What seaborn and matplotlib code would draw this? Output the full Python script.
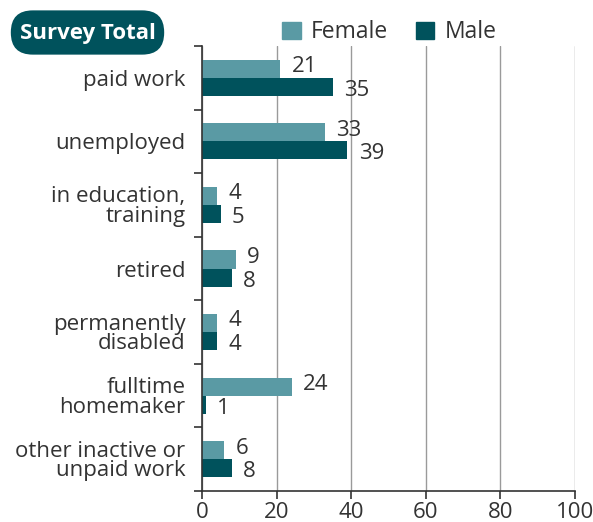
import numpy as np
import pandas as pd
import seaborn as sns
import matplotlib.pyplot as plt
from matplotlib.patches import FancyBboxPatch
from matplotlib.ticker import FixedLocator

categories = ['paid work', 'unemployed', 'in education,\ntraining', 'retired',
              'permanently\ndisabled', 'fulltime\nhomemaker', 'other inactive or\nunpaid work']
female = [21, 33, 4, 9, 4, 24, 6]
male = [35, 39, 5, 8, 4, 1, 8]
groups = ['Female', 'Male']
colors = ['#5A9AA4', '#00525C']

df = pd.DataFrame({
    'category': categories * 2,
    'value': female + male,
    'sex': ['Female'] * len(categories) + ['Male'] * len(categories),
})

sns.set_style('white')
plt.rcParams['font.family'] = ['Open Sans', 'DejaVu Sans']
text_col = '#333333'
fs = 16

W, H = 593, 522
fig = plt.figure(figsize=(W / 100, H / 100), dpi=100)
ax = fig.add_axes([202 / W, 1 - 491 / H, 373 / W, 445 / H])

sns.barplot(data=df, y='category', x='value', hue='sex', order=categories,
            hue_order=groups, palette=colors, orient='h', width=0.57,
            saturation=1, ax=ax, legend=False, edgecolor='none')

# value labels: female nudged up, male nudged down
for cont, dy in zip(ax.containers, [1.5, -2.5]):
    for t in ax.bar_label(cont, fmt='%d', padding=8, fontsize=fs, color=text_col):
        t.xyann = (t.xyann[0], dy)

ax.set_xlim(0, 100)
ax.set_ylim(6.5, -0.5)
ax.set_xticks([0, 20, 40, 60, 80, 100])
ax.set_xlabel('')
ax.set_ylabel('')
ax.grid(axis='x', color='#9a9a9a', linewidth=1)
ax.grid(axis='y', visible=False)
ax.set_axisbelow(True)

for s in ['top', 'right']:
    ax.spines[s].set_visible(False)
for s in ['left', 'bottom']:
    ax.spines[s].set_color('#333333')
    ax.spines[s].set_linewidth(1.2)

ax.yaxis.set_minor_locator(FixedLocator(np.arange(-0.5, 7, 1)))
ax.tick_params(axis='y', which='major', length=0, pad=12, labelsize=fs, labelcolor=text_col)
ax.tick_params(axis='y', which='minor', length=6, width=1.2, color='#333333', left=True)
ax.tick_params(axis='x', which='major', length=6, width=1.2, color='#333333', bottom=True,
               labelsize=fs, labelcolor=text_col, pad=2)
for lab in ax.get_yticklabels():
    lab.set_linespacing(0.92)
    lab.set_horizontalalignment('right')
    lab.set_multialignment('right')

handles = [plt.Rectangle((0, 0), 1, 1, color=c) for c in colors]
fig.legend(handles, groups, loc='center left', bbox_to_anchor=(0.476, 0.938), ncol=2,
           frameon=False, fontsize=16.5, handlelength=0.8, handleheight=0.8,
           handletextpad=0.45, columnspacing=1.2, labelcolor=text_col,
           borderaxespad=0, borderpad=0)

# rounded title badge
badge = FancyBboxPatch((12 / W + 0.035, 1 - 52 / H + 0.037), 151 / W - 0.07, 39 / H - 0.074,
                       boxstyle='round,pad=0.037,rounding_size=0.037',
                       transform=fig.transFigure, fc='#00525C', ec='none',
                       mutation_aspect=W / H)
fig.patches.append(badge)
fig.text(87.5 / W, 1 - 33 / H, 'Survey Total', ha='center', va='center', color='white',
         fontsize=16, fontweight='bold')

fig.savefig('out.png', dpi=100)
